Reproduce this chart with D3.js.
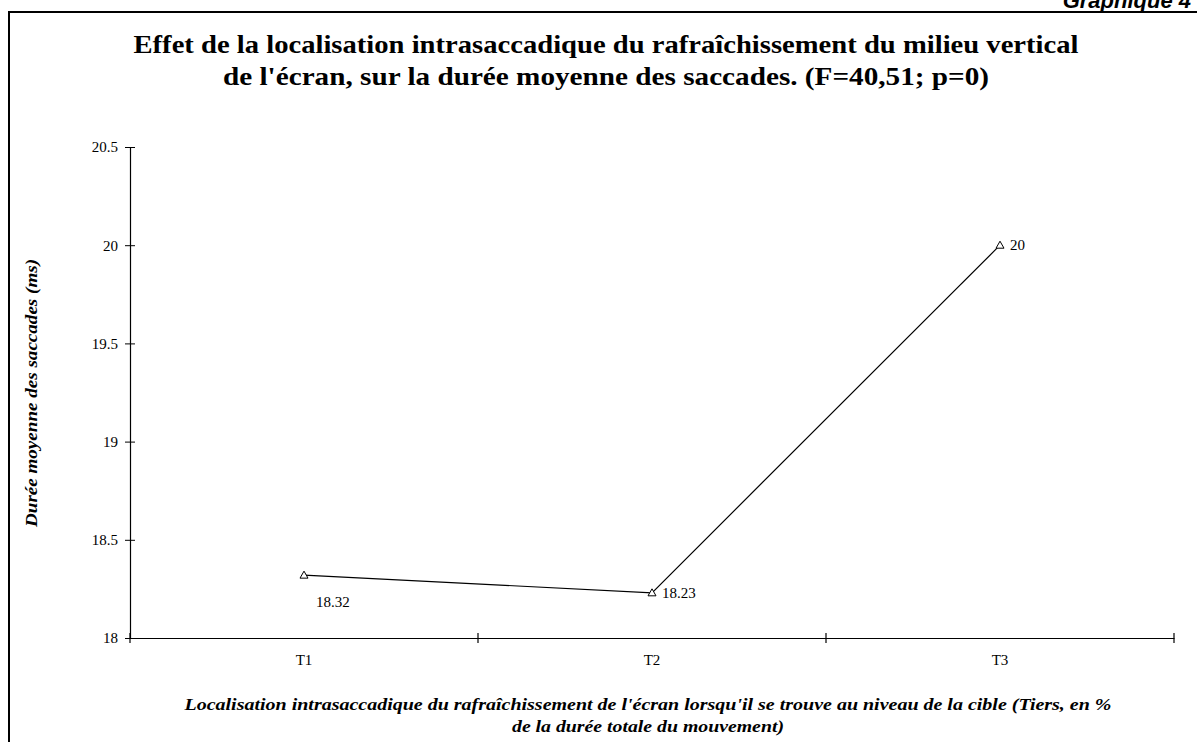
<!DOCTYPE html>
<html>
<head>
<meta charset="utf-8">
<script src="https://cdn.jsdelivr.net/npm/d3@7"></script>
<style>
  html, body { margin: 0; padding: 0; background: #fff; }
  svg { display: block; }
  text { font-family: "Liberation Serif", "Times New Roman", serif; fill: #000; }
</style>
</head>
<body>
<svg id="chart" width="1197" height="742"></svg>
<script>
// Mean saccade duration per intrasaccadic refresh third
const categories = ["T1", "T2", "T3"];
const durations = [18.32, 18.23, 20];
const yTicks = [18, 18.5, 19, 19.5, 20, 20.5];

const titleLines = [
  "Effet de la localisation intrasaccadique du rafraîchissement du milieu vertical",
  "de l'écran, sur la durée moyenne des saccades. (F=40,51; p=0)"
];
const xTitleLines = [
  "Localisation intrasaccadique du rafraîchissement de l'écran lorsqu'il se trouve au niveau de la cible (Tiers, en %",
  "de la durée totale du mouvement)"
];
const yTitle = "Durée moyenne des saccades (ms)";
const cornerLabel = "Graphique 4";

const svg = d3.select("#chart");
const W = 1197, H = 742;
const plot = { left: 130, right: 1174, top: 147, bottom: 638 };

// Outer frame
svg.append("path")
  .attr("d", `M9,${H + 2} L9,12 L${W + 2},12`)
  .attr("fill", "none").attr("stroke", "#000").attr("stroke-width", 2);

svg.append("text")
  .attr("x", 1191).attr("y", 8)
  .attr("text-anchor", "end")
  .style("font-family", "'Liberation Sans', Arial, sans-serif")
  .style("font-weight", "bold").style("font-style", "italic")
  .style("font-size", "22px")
  .text(cornerLabel);

// Title
const titleLengths = [945, 766];
svg.append("g").selectAll("text").data(titleLines).join("text")
  .attr("x", 606).attr("y", (d, i) => 53 + i * 32)
  .attr("text-anchor", "middle")
  .attr("textLength", (d, i) => titleLengths[i])
  .attr("lengthAdjust", "spacingAndGlyphs")
  .style("font-weight", "bold").style("font-size", "26px")
  .text(d => d);

const x = d3.scaleBand().domain(categories).range([plot.left, plot.right]);
const y = d3.scaleLinear().domain([18, 20.5]).range([plot.bottom, plot.top]);

// Y axis
const yAxis = svg.append("g")
  .attr("transform", `translate(${plot.left},0)`)
  .call(d3.axisLeft(y).tickValues(yTicks).tickFormat(d3.format("")).tickSize(5).tickPadding(6));
yAxis.select(".domain").attr("stroke", "#000").attr("stroke-width", 1.2);
yAxis.selectAll(".tick line").attr("x1", -5).attr("x2", 5).attr("stroke", "#000");
yAxis.selectAll(".tick text").style("font-size", "15px").style("font-family", "'Liberation Serif', serif").attr("x", -12);

// X axis
const xAxis = svg.append("g")
  .attr("transform", `translate(0,${plot.bottom})`)
  .call(d3.axisBottom(x).tickSize(0).tickPadding(16));
xAxis.select(".domain").attr("stroke", "#000").attr("stroke-width", 1.2);
xAxis.selectAll(".tick text").style("font-size", "15px").style("font-family", "'Liberation Serif', serif");
// boundary ticks between categories
const bounds = categories.map(c => x(c)).concat([x(categories[categories.length - 1]) + x.bandwidth()]);
xAxis.selectAll("line.sep").data(bounds).join("line")
  .attr("class", "sep")
  .attr("x1", d => d).attr("x2", d => d)
  .attr("y1", -5).attr("y2", 5)
  .attr("stroke", "#000").attr("stroke-width", 1.2);

// Axis titles
svg.append("text")
  .attr("transform", `translate(37,393) rotate(-90)`)
  .attr("text-anchor", "middle")
  .attr("textLength", 268)
  .attr("lengthAdjust", "spacingAndGlyphs")
  .style("font-weight", "bold").style("font-style", "italic").style("font-size", "17px")
  .text(yTitle);

const xTitleLengths = [927, 272];
svg.append("g").selectAll("text").data(xTitleLines).join("text")
  .attr("x", 648).attr("y", (d, i) => 710 + i * 22)
  .attr("text-anchor", "middle")
  .attr("textLength", (d, i) => xTitleLengths[i])
  .attr("lengthAdjust", "spacingAndGlyphs")
  .style("font-weight", "bold").style("font-style", "italic").style("font-size", "17px")
  .text(d => d);

// Series line
const pts = categories.map((c, i) => ({ c, v: durations[i] }));
const cx = d => x(d.c) + x.bandwidth() / 2;
svg.append("path")
  .datum(pts)
  .attr("fill", "none").attr("stroke", "#000").attr("stroke-width", 1.2)
  .attr("d", d3.line().x(cx).y(d => y(d.v)));

// Triangle markers
svg.append("g").selectAll("path").data(pts).join("path")
  .attr("transform", d => `translate(${cx(d)},${y(d.v)})`)
  .attr("d", "M0,-4 L4,3 L-4,3 Z")
  .attr("fill", "#fff").attr("stroke", "#000").attr("stroke-width", 1);

// Value labels
const labelOffsets = [{ dx: 12, dy: 32 }, { dx: 10, dy: 5 }, { dx: 10, dy: 5 }];
svg.append("g").selectAll("text").data(pts).join("text")
  .attr("x", (d, i) => cx(d) + labelOffsets[i].dx)
  .attr("y", (d, i) => y(d.v) + labelOffsets[i].dy)
  .style("font-size", "15px")
  .text(d => d.v);
</script>
</body>
</html>
